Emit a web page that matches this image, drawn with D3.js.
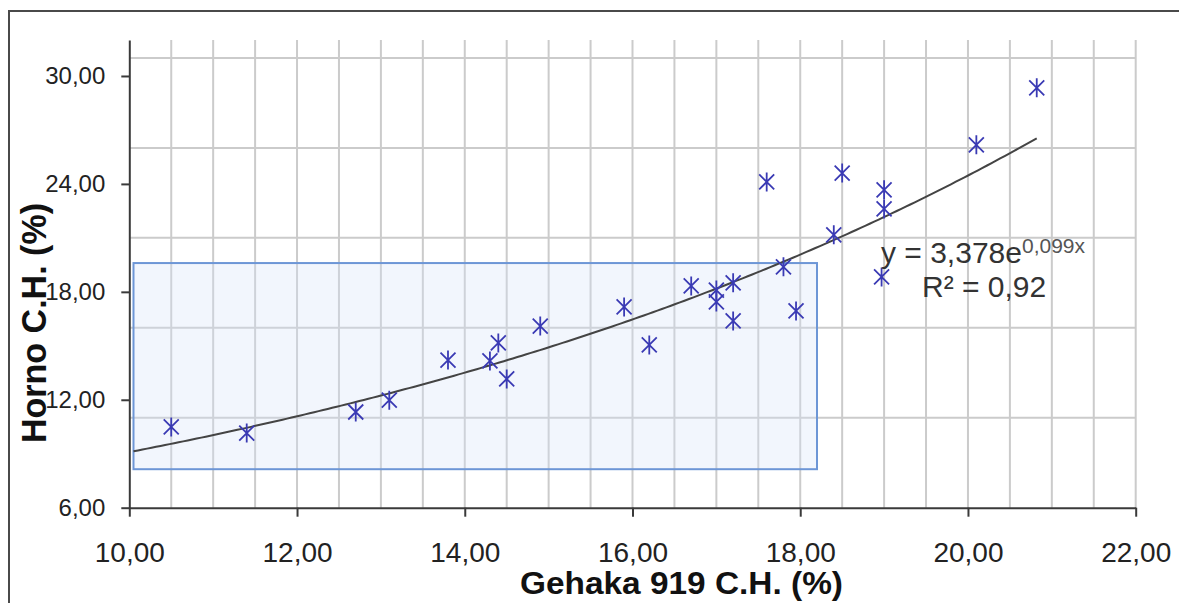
<!DOCTYPE html>
<html>
<head>
<meta charset="utf-8">
<script src="https://cdn.jsdelivr.net/npm/d3@7/dist/d3.min.js"></script>
<style>
  html, body { margin: 0; padding: 0; background: #ffffff; }
  svg { display: block; font-family: "Liberation Sans", Arial, sans-serif; }
</style>
</head>
<body>
<svg id="chart" width="1179" height="603"></svg>
<script>
// Moisture content: Gehaka 919 meter vs. oven method (%)
const gehaka = [10.5, 11.4, 12.7, 13.1, 13.8, 14.3, 14.4, 14.5, 14.9, 15.9, 16.2, 16.7, 17.0, 17.0, 17.2, 17.2, 17.6, 17.8, 17.95, 18.4, 18.5, 18.97, 19.0, 19.0, 20.1, 20.82];
const horno  = [10.49, 10.15, 11.32, 11.98, 14.21, 14.16, 15.16, 13.16, 16.1, 17.16, 15.05, 18.33, 18.1, 17.44, 18.5, 16.38, 24.11, 19.39, 16.94, 21.17, 24.6, 18.83, 23.67, 22.61, 26.17, 29.34];

// Exponential trend fit shown in the label
const trendA = 3.378;
const trendB = 0.099;
const trendRange = [10.05, 20.82];
const equationText = "y = 3,378e";
const equationExp = "0,099x";
const r2Text = "R² = 0,92";

// Axis ticks and minor grid positions
const xTicks = [10, 12, 14, 16, 18, 20, 22];
const yTicks = [6, 12, 18, 24, 30];
const xGrid = d3.range(10.5, 22.01, 0.5);
const yGrid = [11, 16, 21, 26, 31];

// Highlighted region (x from, x to, y from, y to)
const boxX = [10.05, 18.2];
const boxY = [8.14, 19.6];

const xTitle = "Gehaka 919  C.H. (%)";
const yTitle = "Horno C.H. (%)";

const locale = d3.formatLocale({ decimal: ",", thousands: ".", grouping: [3], currency: ["", ""] });
const fmt = locale.format(".2f");

const svg = d3.select("#chart");

// outer chart frame (only left and top edges fall inside the view)
svg.append("rect")
  .attr("x", 9).attr("y", 11)
  .attr("width", 1200).attr("height", 620)
  .attr("fill", "#ffffff")
  .attr("stroke", "#4a4a4a").attr("stroke-width", 2);

const x = d3.scaleLinear().domain([10, 22]).range([129.3, 1135.7]);
const y = d3.scaleLinear().domain([6, 32]).range([507.7, 40]);

const plot = svg.append("g");

// grid
plot.append("g").selectAll("line").data(xGrid).join("line")
  .attr("x1", d => x(d)).attr("x2", d => x(d))
  .attr("y1", y(32)).attr("y2", y(6))
  .attr("stroke", "#cbcbcb").attr("stroke-width", 2);
plot.append("g").selectAll("line").data(yGrid).join("line")
  .attr("x1", x(10)).attr("x2", x(22))
  .attr("y1", d => y(d)).attr("y2", d => y(d))
  .attr("stroke", "#cbcbcb").attr("stroke-width", 2);

// highlighted region
plot.append("rect")
  .attr("x", x(boxX[0])).attr("y", y(boxY[1]))
  .attr("width", x(boxX[1]) - x(boxX[0]))
  .attr("height", y(boxY[0]) - y(boxY[1]))
  .attr("fill", "rgba(215,228,250,0.32)")
  .attr("stroke", "#6d96d6").attr("stroke-width", 2);

// axes
const xAxis = d3.axisBottom(x).tickValues(xTicks).tickFormat(fmt)
  .tickSizeInner(9).tickSizeOuter(0).tickPadding(25);
const yAxis = d3.axisLeft(y).tickValues(yTicks).tickFormat(fmt)
  .tickSizeInner(8).tickSizeOuter(0).tickPadding(16);

const gx = svg.append("g").attr("transform", `translate(0,${y(6)})`).call(xAxis);
const gy = svg.append("g").attr("transform", `translate(${x(10)},0)`).call(yAxis);

[gx, gy].forEach(g => {
  g.select(".domain").attr("stroke", "#3a3a3a").attr("stroke-width", 2);
  g.selectAll(".tick line").attr("stroke", "#3a3a3a").attr("stroke-width", 2);
  g.selectAll(".tick text").attr("fill", "#222222").attr("font-family", "Liberation Sans, Arial, sans-serif");
});
gx.selectAll(".tick text").attr("font-size", 28);
gy.selectAll(".tick text").attr("font-size", 24);

// trend line
const trendXs = d3.range(0, 201).map(i => trendRange[0] + (trendRange[1] - trendRange[0]) * i / 200);
plot.append("path")
  .datum(trendXs)
  .attr("fill", "none")
  .attr("stroke", "#444444").attr("stroke-width", 2)
  .attr("d", d3.line().x(d => x(d)).y(d => y(trendA * Math.exp(trendB * d))));

// star markers
const starPath = "M-7.5,-7.5L7.5,7.5M-7.5,7.5L7.5,-7.5M0,-9.5L0,9.5";
svg.append("g").selectAll("path").data(gehaka.map((g, i) => [g, horno[i]])).join("path")
  .attr("transform", d => `translate(${x(d[0])},${y(d[1])})`)
  .attr("d", starPath)
  .attr("fill", "none")
  .attr("stroke", "#3a3ab4").attr("stroke-width", 1.8);

// trend equation
const eq = svg.append("text")
  .attr("x", 881).attr("y", 263)
  .attr("font-size", 30).attr("fill", "#333333");
eq.append("tspan").text(equationText);
eq.append("tspan").attr("font-size", 21).attr("dy", -10).attr("fill", "#555555").text(equationExp);
svg.append("text")
  .attr("x", 922).attr("y", 297)
  .attr("font-size", 30).attr("fill", "#333333")
  .text(r2Text);

// axis titles
svg.append("text")
  .attr("x", 520).attr("y", 594)
  .attr("font-size", 31).attr("font-weight", "bold").attr("fill", "#111111")
  .attr("textLength", 323).attr("lengthAdjust", "spacingAndGlyphs")
  .text(xTitle);
svg.append("text")
  .attr("transform", "translate(46,443) rotate(-90)")
  .attr("font-size", 35).attr("font-weight", "bold").attr("fill", "#111111")
  .attr("textLength", 240).attr("lengthAdjust", "spacingAndGlyphs")
  .text(yTitle);
</script>
</body>
</html>
